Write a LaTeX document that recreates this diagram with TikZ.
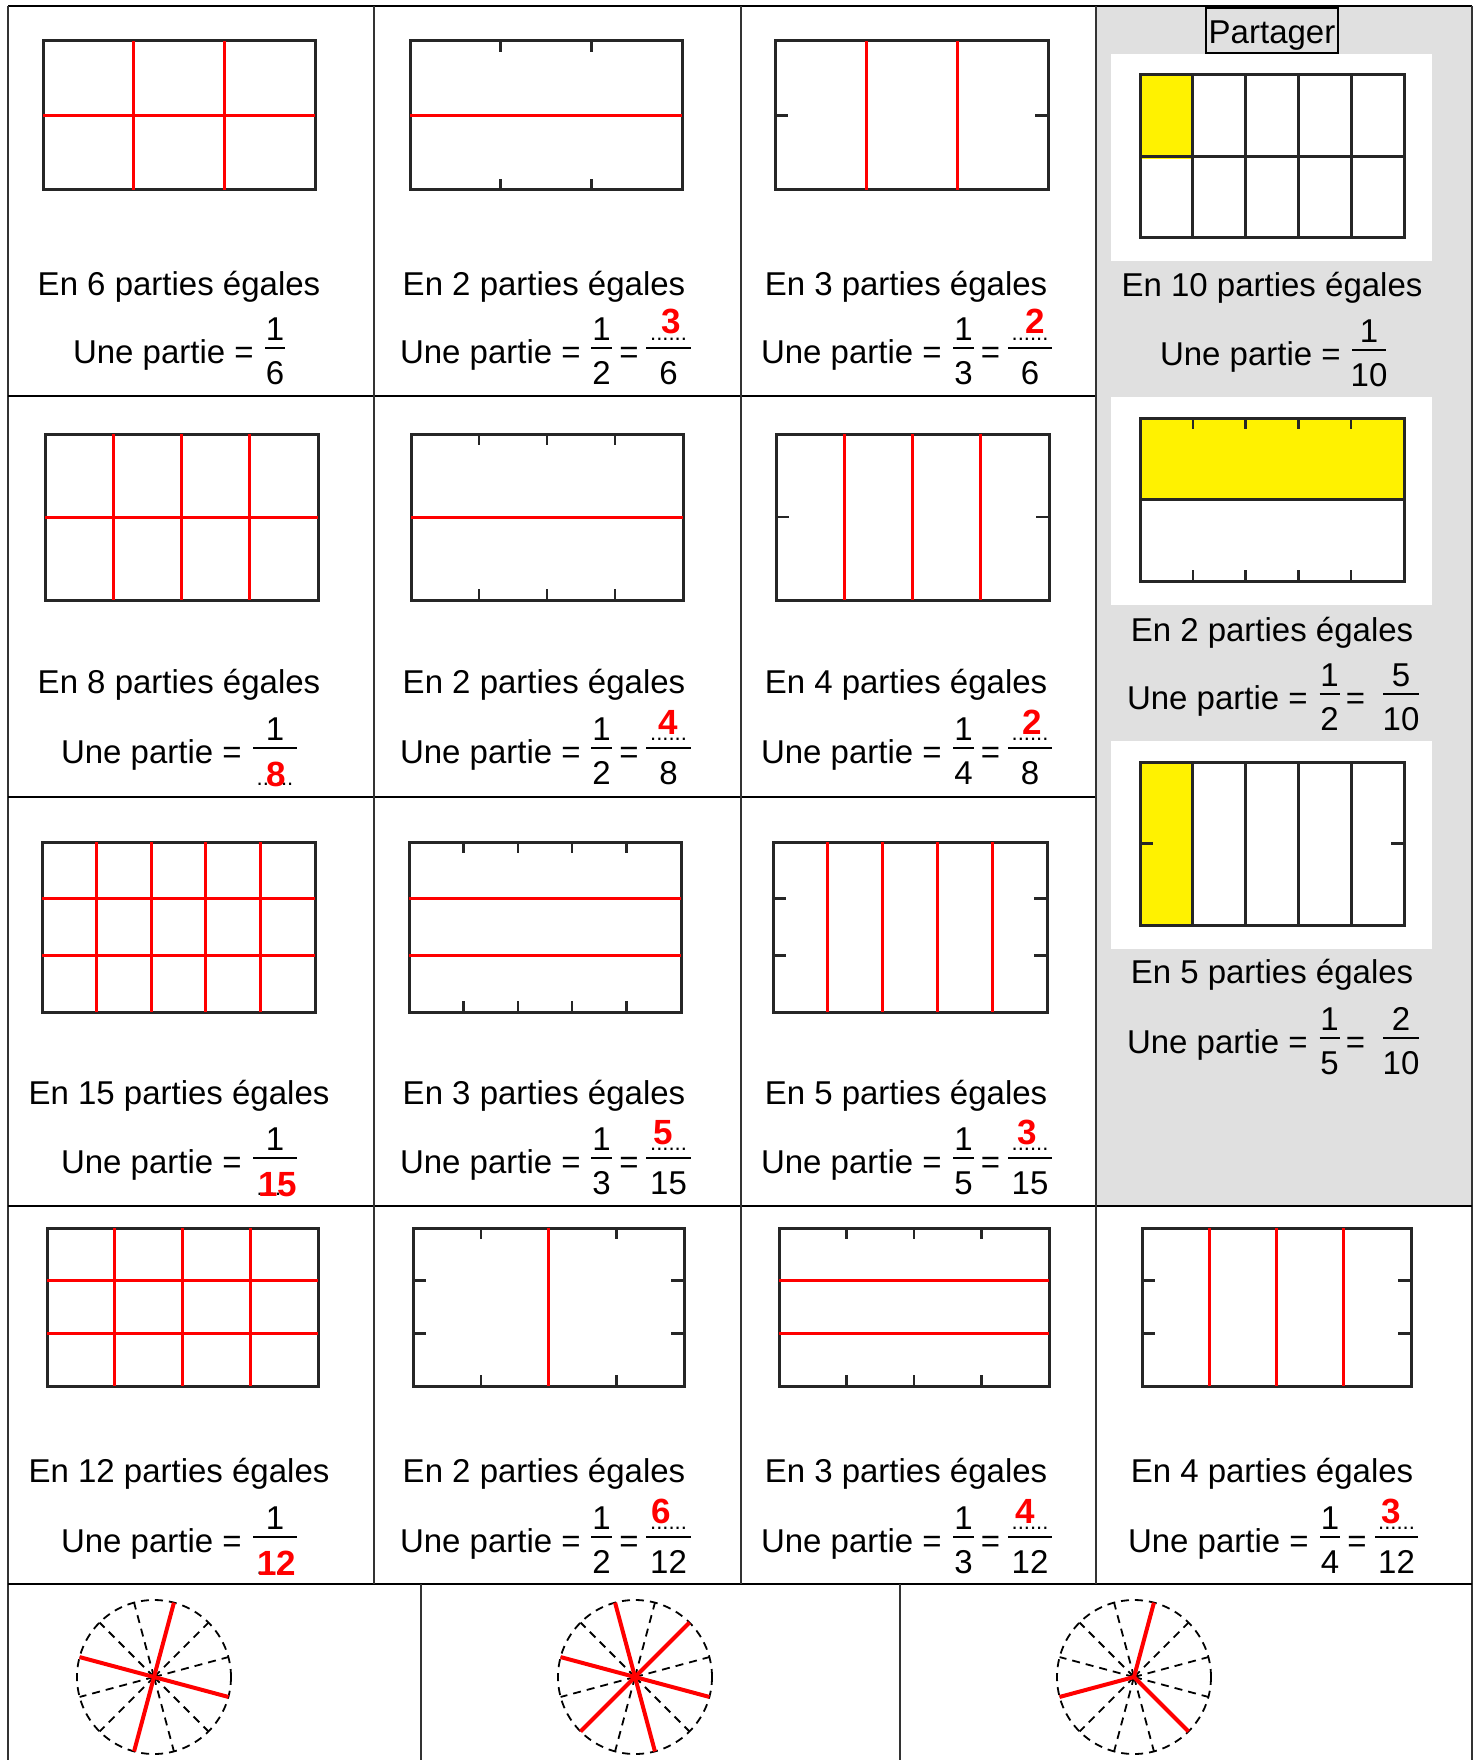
\documentclass[tikz,border=0pt]{standalone}
\usepackage{fontspec}
\setmainfont{Liberation Sans}
\tikzset{
 txt/.style={font=\fontsize{33}{40}\selectfont, anchor=base, inner sep=0pt, outer sep=0pt},
 rdig/.style={font=\fontsize{35}{40}\selectfont\bfseries, text=red, anchor=base, inner sep=0pt},
 dts/.style={font=\fontsize{22}{26}\selectfont, anchor=base, inner sep=0pt},
 rb/.style={line width=3pt, draw=black!85},
 redl/.style={line width=3pt, draw=red},
 tk/.style={line width=2.5pt, draw=black!85},
 fb/.style={line width=1.8pt, draw=black},
 gl/.style={line width=1.5pt, draw=black!80},
 gh/.style={line width=2.8pt, draw=black},
 sp/.style={dash pattern=on 8pt off 6pt, line width=1.8pt, draw=black},
 redc/.style={line width=4pt, draw=red},
}
\newcommand\kRect[4]{\draw[rb] (#1,#2) rectangle (#3,#4);}
\newcommand\kVL[6]{\pgfmathtruncatemacro\mynn{#6-1}%
 \foreach \i in {1,...,\mynn}{\draw[#1] ({#2+(#4-#2)*\i/#6},#3) -- ({#2+(#4-#2)*\i/#6},#5);}}
\newcommand\kHL[6]{\pgfmathtruncatemacro\mynn{#6-1}%
 \foreach \i in {1,...,\mynn}{\draw[#1] (#2,{#3+(#5-#3)*\i/#6}) -- (#4,{#3+(#5-#3)*\i/#6});}}
\newcommand\kVT[5]{\pgfmathtruncatemacro\mynn{#5-1}%
 \foreach \i in {1,...,\mynn}{\draw[tk] ({#1+(#3-#1)*\i/#5},#2) -- ++(0,11); \draw[tk] ({#1+(#3-#1)*\i/#5},#4) -- ++(0,-11);}}
\newcommand\kHT[5]{\pgfmathtruncatemacro\mynn{#5-1}%
 \foreach \i in {1,...,\mynn}{\draw[tk] (#1,{#2+(#4-#2)*\i/#5}) -- ++(13,0); \draw[tk] (#3,{#2+(#4-#2)*\i/#5}) -- ++(-13,0);}}
\newcommand\kUne[3]{\node[txt,anchor=base west] (#1) at (#2,{#3+15}) {Une partie =};}
\newcommand\kBar[3]{\draw[fb] ({#1-#3},#2) -- ({#1+#3},#2);}
\newcommand\kNum[4]{\node[txt] (#1) at (#2,{#3-8}) {#4};}
\newcommand\kDen[4]{\node[txt] (#1) at (#2,{#3+36}) {#4};}
\newcommand\kEq[3]{\node[txt] (#1) at (#2,{#3+15}) {=};}
\newcommand\kRNum[5]{\node[dts] (#1d) at (#2,{#3-8}) {......}; \node[rdig] (#1) at ({#2+#4},{#3-14}) {#5};}
\newcommand\kRDen[5]{\node[dts] (#1d) at (#2,{#3+37}) {......}; \node[rdig] (#1) at ({#2+#4},{#3+38}) {#5};}
\newcommand\kTi[4]{\node[txt] (#1) at (#2,#3) {#4};}
\newcommand\kWheel[3]{\coordinate (#1) at (#2,#3);
 \draw[sp] (#1) circle[radius=77pt];
 \foreach \a in {15,45,...,345}{\draw[sp] (#1) -- ([shift={(\a:77)}]#1);}
 \fill (#1) circle[radius=4pt];}
\begin{document}
\begin{tikzpicture}[x=1pt,y=-1pt]
\useasboundingbox (0,0) rectangle (1480,1760);
\fill[white] (0,0) rectangle (1480,1760);
% grey column and white panels
\fill[black!12] (1096,6) rectangle (1472,1206);
\fill[white] (1111,54) rectangle (1432,261);
\fill[white] (1111,397) rectangle (1432,605);
\fill[white] (1111,741) rectangle (1432,949);
% table lines
\draw[gh] (8,6) -- (1472,6);
\draw[gl] (8,6) -- (8,1760);
\draw[gl] (1472,6) -- (1472,1760);
\draw[gh] (8,396) -- (1096,396);
\draw[gh] (8,797) -- (1096,797);
\draw[gh] (8,1206) -- (1472,1206);
\draw[gh] (8,1584) -- (1472,1584);
\draw[gl] (374,6) -- (374,1584);
\draw[gl] (741,6) -- (741,1584);
\draw[gl] (1096,6) -- (1096,1584);
\draw[gl] (421,1584) -- (421,1760);
\draw[gl] (900,1584) -- (900,1760);
% Partager
\draw[line width=2pt] (1206,8) rectangle (1338,53);
\node[txt] (part) at (1272,44) {Partager};
% ---------- Row 1
\kRect{43}{41}{315}{190} \kVL{redl}{43}{41}{315}{190}{3} \kHL{redl}{43}{41}{315}{190}{2}
\kRect{410}{41}{682}{190} \kVT{410}{41}{682}{190}{3} \kHL{redl}{410}{41}{682}{190}{2}
\kRect{775}{41}{1048}{190} \kHT{775}{41}{1048}{190}{2} \kVL{redl}{775}{41}{1048}{190}{3}
\fill[yellow] (1140,75) rectangle (1192.8,159);
\kRect{1140}{75}{1404}{238} \kVL{rb}{1140}{75}{1404}{238}{5} \kHL{rb}{1140}{75}{1404}{238}{2}
% ---------- Row 2
\kRect{45}{434}{318}{600} \kVL{redl}{45}{434}{318}{600}{4} \kHL{redl}{45}{434}{318}{600}{2}
\kRect{411}{434}{683}{600} \kVT{411}{434}{683}{600}{4} \kHL{redl}{411}{434}{683}{600}{2}
\kRect{776}{434}{1049}{600} \kHT{776}{434}{1049}{600}{2} \kVL{redl}{776}{434}{1049}{600}{4}
\fill[yellow] (1140,418) rectangle (1404,499.5);
\kRect{1140}{418}{1404}{581} \kHL{rb}{1140}{418}{1404}{581}{2} \kVT{1140}{418}{1404}{581}{5}
% ---------- Row 3
\kRect{42}{842}{315}{1012} \kVL{redl}{42}{842}{315}{1012}{5} \kHL{redl}{42}{842}{315}{1012}{3}
\kRect{409}{842}{681}{1012} \kVT{409}{842}{681}{1012}{5} \kHL{redl}{409}{842}{681}{1012}{3}
\kRect{773}{842}{1047}{1012} \kHT{773}{842}{1047}{1012}{3} \kVL{redl}{773}{842}{1047}{1012}{5}
\fill[yellow] (1140,762) rectangle (1192.8,925);
\kRect{1140}{762}{1404}{925} \kVL{rb}{1140}{762}{1404}{925}{5} \kHT{1140}{762}{1404}{925}{2}
% ---------- Row 4
\kRect{47}{1228}{318}{1386} \kVL{redl}{47}{1228}{318}{1386}{4} \kHL{redl}{47}{1228}{318}{1386}{3}
\kRect{413}{1228}{684}{1386} \kVT{413}{1228}{684}{1386}{4} \kHT{413}{1228}{684}{1386}{3} \kVL{redl}{413}{1228}{684}{1386}{2}
\kRect{779}{1228}{1049}{1386} \kVT{779}{1228}{1049}{1386}{4} \kHL{redl}{779}{1228}{1049}{1386}{3}
\kRect{1142}{1228}{1411}{1386} \kHT{1142}{1228}{1411}{1386}{3} \kVL{redl}{1142}{1228}{1411}{1386}{4}
% ---------- Titles
\kTi{t11}{179}{296}{En 6 parties égales}
\kTi{t12}{544}{296}{En 2 parties égales}
\kTi{t13}{906}{296}{En 3 parties égales}
\kTi{t14}{1272}{297}{En 10 parties égales}
\kTi{t21}{179}{693}{En 8 parties égales}
\kTi{t22}{544}{693}{En 2 parties égales}
\kTi{t23}{906}{693}{En 4 parties égales}
\kTi{t24}{1272}{641}{En 2 parties égales}
\kTi{t31}{179}{1104}{En 15 parties égales}
\kTi{t32}{544}{1104}{En 3 parties égales}
\kTi{t33}{906}{1104}{En 5 parties égales}
\kTi{t34}{1272}{983}{En 5 parties égales}
\kTi{t41}{179}{1482}{En 12 parties égales}
\kTi{t42}{544}{1482}{En 2 parties égales}
\kTi{t43}{906}{1482}{En 3 parties égales}
\kTi{t44}{1272}{1482}{En 4 parties égales}
% ---------- Fractions row 1
\kUne{u11}{73}{348} \kBar{275}{348}{10} \kNum{n11}{275}{348}{1} \kDen{d11}{275}{348}{6}
\kUne{u12}{400}{348} \kBar{601.5}{348}{10.5} \kNum{n12}{601.5}{348}{1} \kDen{d12}{601.5}{348}{2}
\kEq{e12}{629}{348} \kBar{668.5}{348}{22.5} \kRNum{m12}{668.5}{348}{3}{3} \kDen{f12}{668.5}{348}{6}
\kUne{u13}{761}{348} \kBar{963.5}{348}{10.5} \kNum{n13}{963.5}{348}{1} \kDen{d13}{963.5}{348}{3}
\kEq{e13}{990.5}{348} \kBar{1030}{348}{22} \kRNum{m13}{1030}{348}{5}{2} \kDen{f13}{1030}{348}{6}
\kUne{u14}{1160}{350} \kBar{1369}{350}{17} \kNum{n14}{1369}{350}{1} \kDen{d14}{1369}{350}{10}
% ---------- Fractions row 2
\kUne{u21}{61}{748} \kBar{275}{748}{22} \kNum{n21}{275}{748}{1} \kRDen{m21}{275}{748}{1}{8}
\kUne{u22}{400}{748} \kBar{601.5}{748}{10.5} \kNum{n22}{601.5}{748}{1} \kDen{d22}{601.5}{748}{2}
\kEq{e22}{629}{748} \kBar{668.5}{748}{22.5} \kRNum{m22}{668.5}{748}{0}{4} \kDen{f22}{668.5}{748}{8}
\kUne{u23}{761}{748} \kBar{963.5}{748}{10.5} \kNum{n23}{963.5}{748}{1} \kDen{d23}{963.5}{748}{4}
\kEq{e23}{990.5}{748} \kBar{1030}{748}{22} \kRNum{m23}{1030}{748}{2}{2} \kDen{f23}{1030}{748}{8}
\kUne{u24}{1127}{694} \kBar{1329.5}{694}{10} \kNum{n24}{1329.5}{694}{1} \kDen{d24}{1329.5}{694}{2}
\kEq{e24}{1355.5}{694} \kBar{1401}{694}{18} \kNum{g24}{1401}{694}{5} \kDen{f24}{1401}{694}{10}
% ---------- Fractions row 3
\kUne{u31}{61}{1158} \kBar{275}{1158}{22} \kNum{n31}{275}{1158}{1} \kRDen{m31}{275}{1158}{3}{15}
\kUne{u32}{400}{1158} \kBar{601.5}{1158}{10.5} \kNum{n32}{601.5}{1158}{1} \kDen{d32}{601.5}{1158}{3}
\kEq{e32}{629}{1158} \kBar{668.5}{1158}{22.5} \kRNum{m32}{668.5}{1158}{-5}{5} \kDen{f32}{668.5}{1158}{15}
\kUne{u33}{761}{1158} \kBar{963.5}{1158}{10.5} \kNum{n33}{963.5}{1158}{1} \kDen{d33}{963.5}{1158}{5}
\kEq{e33}{990.5}{1158} \kBar{1030}{1158}{22} \kRNum{m33}{1030}{1158}{-3}{3} \kDen{f33}{1030}{1158}{15}
\kUne{u34}{1127}{1038} \kBar{1329.5}{1038}{10} \kNum{n34}{1329.5}{1038}{1} \kDen{d34}{1329.5}{1038}{5}
\kEq{e34}{1355.5}{1038} \kBar{1401}{1038}{18} \kNum{g34}{1401}{1038}{2} \kDen{f34}{1401}{1038}{10}
% ---------- Fractions row 4
\kUne{u41}{61}{1537} \kBar{275}{1537}{22} \kNum{n41}{275}{1537}{1} \kRDen{m41}{275}{1537}{2}{12}
\kUne{u42}{400}{1537} \kBar{601.5}{1537}{10.5} \kNum{n42}{601.5}{1537}{1} \kDen{d42}{601.5}{1537}{2}
\kEq{e42}{629}{1537} \kBar{668.5}{1537}{22.5} \kRNum{m42}{668.5}{1537}{-7}{6} \kDen{f42}{668.5}{1537}{12}
\kUne{u43}{761}{1537} \kBar{963.5}{1537}{10.5} \kNum{n43}{963.5}{1537}{1} \kDen{d43}{963.5}{1537}{3}
\kEq{e43}{990.5}{1537} \kBar{1030}{1537}{22} \kRNum{m43}{1030}{1537}{-4.5}{4} \kDen{f43}{1030}{1537}{12}
\kUne{u44}{1128}{1537} \kBar{1330}{1537}{10} \kNum{n44}{1330}{1537}{1} \kDen{d44}{1330}{1537}{4}
\kEq{e44}{1357}{1537} \kBar{1396.5}{1537}{21.5} \kRNum{m44}{1396.5}{1537}{-5}{3} \kDen{f44}{1396.5}{1537}{12}
% ---------- Wheels
\kWheel{w1}{154}{1677}
\draw[redc] ([shift={(-75:77)}]w1) -- ([shift={(105:77)}]w1);
\draw[redc] ([shift={(-165:77)}]w1) -- ([shift={(15:77)}]w1);
\kWheel{w2}{635}{1677}
\draw[redc] ([shift={(-45:77)}]w2) -- ([shift={(135:77)}]w2);
\draw[redc] ([shift={(-105:77)}]w2) -- ([shift={(75:77)}]w2);
\draw[redc] ([shift={(-165:77)}]w2) -- ([shift={(15:77)}]w2);
\kWheel{w3}{1134}{1677}
\draw[redc] (w3) -- ([shift={(-75:77)}]w3);
\draw[redc] (w3) -- ([shift={(165:77)}]w3);
\draw[redc] (w3) -- ([shift={(45:77)}]w3);
\end{tikzpicture}
\end{document}
